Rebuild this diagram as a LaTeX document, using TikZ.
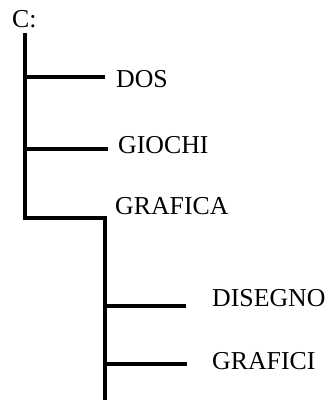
\documentclass[tikz,border=0pt]{standalone}
\usepackage{fontspec}
\setmainfont{Liberation Serif}
\begin{document}
\begin{tikzpicture}[x=1pt,y=-1pt,
  label/.style={anchor=base west,inner sep=0pt,font=\fontsize{25.8}{30}\selectfont},
  wire/.style={line width=3.2pt}]
\useasboundingbox (0,0) rectangle (330,400);
% labels
\node[label] (c)   at (12,27)  {C:};
\node[label] (dos) at (116,87) {DOS};
\node[label] (gio) at (118,153) {GIOCHI};
\node[label] (gra) at (115,214) {GRAFICA};
\node[label] (dis) at (212,306) {DISEGNO};
\node[label] (gfi) at (212,369) {GRAFICI};
% trunk points
\coordinate (t0) at (25,33);
\coordinate (t1) at (25,218);
\coordinate (s0) at (105,218);
\coordinate (s1) at (105,400);
% branch points
\coordinate (a0) at (25,77);   \coordinate (a1) at (105,77);
\coordinate (b0) at (27,149);  \coordinate (b1) at (108,149);
\coordinate (d0) at (105,306); \coordinate (d1) at (186,306);
\coordinate (e0) at (105,364); \coordinate (e1) at (187,364);
% tree
\draw[wire] (t0) -- (t1) -- (s0) -- (s1);
\draw[wire] (a0) -- (a1);
\draw[wire] (b0) -- (b1);
\draw[wire] (d0) -- (d1);
\draw[wire] (e0) -- (e1);
\end{tikzpicture}
\end{document}
